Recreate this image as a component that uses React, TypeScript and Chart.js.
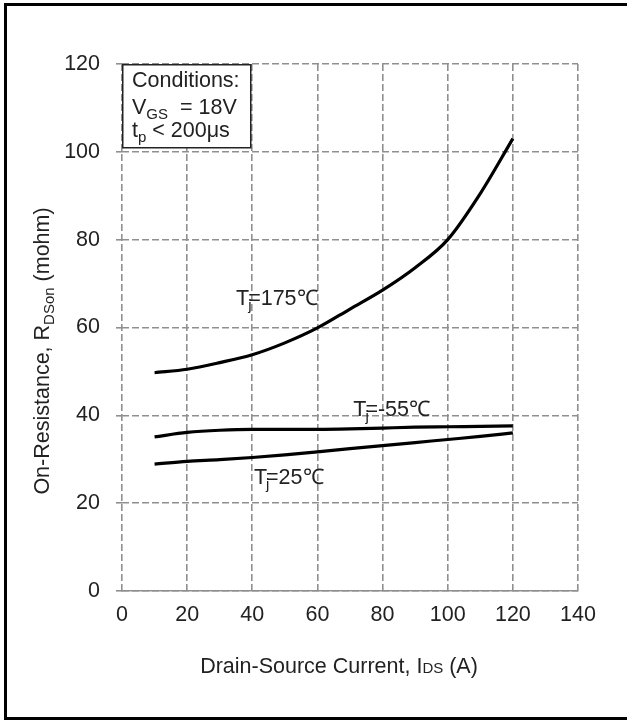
import React, { useEffect, useRef } from "react";
import { Chart, registerables } from "chart.js";

Chart.register(...registerables);

// ---- data ----
const currents = [10, 20, 30, 40, 50, 60, 70, 80, 90, 100, 110, 120];
const rds175 = [49.7, 50.5, 52.0, 53.8, 56.5, 59.9, 64.2, 68.5, 73.6, 80.0, 90.5, 103.0];
const rdsM55 = [35.1, 36.1, 36.6, 36.8, 36.8, 36.8, 36.9, 37.1, 37.3, 37.4, 37.5, 37.6];
const rds25 = [28.9, 29.5, 29.9, 30.4, 31.0, 31.7, 32.4, 33.1, 33.8, 34.5, 35.2, 36.0];

const xTickValues = [0, 20, 40, 60, 80, 100, 120, 140];
const yTickValues = [0, 20, 40, 60, 80, 100, 120];

const seriesNames = ["Tj=175℃", "Tj=-55℃", "Tj=25℃"];
const labelTemps = ["=175℃", "=-55℃", "=25℃"];
const labelAtX = [35, 71, 40.5];
const labelAtY = [66.5, 41.2, 25.7];

const conditionLines = [
  [{ t: "Conditions:" }],
  [{ t: "V" }, { t: "GS", sub: true }, { t: "  = 18V" }],
  [{ t: "t" }, { t: "p", sub: true }, { t: " < 200μs" }],
];

const FONT = "'Liberation Sans', Arial, sans-serif";
const TEXT = "#222";
const GRID = "#8f8f8f";
const SIZE = 21.5;

type Part = { t: string; sub?: boolean };

function richWidth(ctx: CanvasRenderingContext2D, parts: Part[], size: number) {
  let w = 0;
  for (const p of parts) {
    ctx.font = `${p.sub ? Math.round(size * 0.68) : size}px ${FONT}`;
    w += ctx.measureText(p.t).width;
  }
  return w;
}

function drawRich(ctx: CanvasRenderingContext2D, parts: Part[], x: number, y: number, size: number) {
  let cx = x;
  for (const p of parts) {
    const s = p.sub ? Math.round(size * 0.68) : size;
    ctx.font = `${s}px ${FONT}`;
    ctx.fillText(p.t, cx, p.sub ? y + size * 0.22 : y);
    cx += ctx.measureText(p.t).width;
  }
}

const decorPlugin = {
  id: "decor",
  afterDraw(chart: any) {
    const ctx: CanvasRenderingContext2D = chart.ctx;
    const xs = chart.scales.x;
    const ys = chart.scales.y;
    const area = chart.chartArea;
    ctx.save();
    // outer frame
    ctx.fillStyle = "#000";
    ctx.fillRect(4, 3, 3, 717);
    ctx.fillRect(4, 3, 623, 3);
    ctx.fillRect(4, 717, 623, 3);

    ctx.fillStyle = TEXT;
    ctx.textBaseline = "alphabetic";
    ctx.textAlign = "left";

    const size = SIZE;
    // x title: Drain-Source Current, IDS (A)
    const partsX: Part[] = [{ t: "Drain-Source Current, I" }];
    const wA = richWidth(ctx, partsX, size);
    ctx.font = `${Math.round(size * 0.7)}px ${FONT}`;
    const wDS = ctx.measureText("DS").width;
    const wB = richWidth(ctx, [{ t: " (A)" }], size);
    const totalX = wA + wDS + wB;
    const xc = (area.left + area.right) / 2 - 11;
    let sx = xc - totalX / 2;
    const by = 673;
    drawRich(ctx, partsX, sx, by, size);
    sx += wA;
    ctx.font = `${Math.round(size * 0.7)}px ${FONT}`;
    ctx.fillText("DS", sx, by);
    sx += wDS;
    drawRich(ctx, [{ t: " (A)" }], sx, by, size);

    // y title
    const yParts: Part[] = [
      { t: "On-Resistance, R" },
      { t: "DSon", sub: true },
      { t: " (mohm)" },
    ];
    const wy = richWidth(ctx, yParts, size);
    ctx.save();
    ctx.translate(49, 351);
    ctx.rotate(-Math.PI / 2);
    drawRich(ctx, yParts, -wy / 2, 0, size);
    ctx.restore();

    // curve labels
    for (let i = 0; i < labelTemps.length; i++) {
      const px = xs.getPixelForValue(labelAtX[i]);
      const py = ys.getPixelForValue(labelAtY[i]);
      ctx.font = `${size}px ${FONT}`;
      ctx.textBaseline = "middle";
      ctx.fillText("T", px, py);
      const tw = ctx.measureText("T").width;
      ctx.fillText(labelTemps[i], px + tw - 1, py);
      ctx.font = `${Math.round(size * 0.68)}px ${FONT}`;
      ctx.fillText("j", px + tw - 1, py + size * 0.3);
    }
    ctx.textBaseline = "alphabetic";

    // conditions box
    const bx = xs.getPixelForValue(0);
    const byTop = ys.getPixelForValue(120);
    const bw = 128;
    const bh = 83;
    ctx.fillStyle = "#fff";
    ctx.fillRect(bx, byTop, bw, bh);
    ctx.strokeStyle = "#222";
    ctx.lineWidth = 1.5;
    ctx.strokeRect(bx + 0.75, byTop + 0.75, bw, bh);
    ctx.fillStyle = TEXT;
    const baselines = [23, 50, 73];
    for (let i = 0; i < conditionLines.length; i++) {
      drawRich(ctx, conditionLines[i] as Part[], bx + 10, byTop + baselines[i], size);
    }
    ctx.restore();
  },
};

export default function App() {
  const ref = useRef<HTMLCanvasElement | null>(null);
  useEffect(() => {
    document.body.style.margin = "0";
    const canvas = ref.current!;
    const chart = new Chart(canvas, {
      type: "line",
      data: {
        datasets: [rds175, rdsM55, rds25].map((arr, i) => ({
          label: seriesNames[i],
          data: currents.map((c, j) => ({ x: c, y: arr[j] })),
          borderColor: "#000",
          borderWidth: 3.2,
          pointRadius: 0,
          tension: 0.4,
          cubicInterpolationMode: "monotone" as const,
          fill: false,
        })),
      },
      options: {
        animation: false,
        responsive: false,
        devicePixelRatio: 1,
        layout: { padding: { left: 0, right: 49, top: 64, bottom: 0 } },
        plugins: { legend: { display: false }, tooltip: { enabled: false } },
        scales: {
          x: {
            type: "linear",
            min: 0,
            max: 140,
            afterFit: (s: any) => {
              s.height = 129;
            },
            afterBuildTicks: (s: any) => {
              s.ticks = xTickValues.map((v) => ({ value: v }));
            },
            ticks: {
              color: TEXT,
              font: { family: FONT, size: SIZE },
              padding: 11,
              maxRotation: 0,
            },
            grid: {
              color: GRID,
              lineWidth: 1.6,
              drawTicks: false,
            },
            border: { display: true, color: GRID, width: 1.6, dash: [7, 3] },
          },
          y: {
            type: "linear",
            min: 0,
            max: 120,
            afterFit: (s: any) => {
              s.width = 122;
            },
            afterBuildTicks: (s: any) => {
              s.ticks = yTickValues.map((v) => ({ value: v }));
            },
            ticks: {
              color: TEXT,
              font: { family: FONT, size: SIZE },
              padding: 16,
            },
            grid: {
              color: GRID,
              lineWidth: 1.6,
              tickLength: 6,
              tickColor: GRID,
              tickBorderDash: [],
            },
            border: { display: false, dash: [7, 3] },
          },
        },
      } as any,
      plugins: [decorPlugin],
    });
    return () => chart.destroy();
  }, []);
  return <canvas ref={ref} width={627} height={720} style={{ display: "block" }} />;
}
